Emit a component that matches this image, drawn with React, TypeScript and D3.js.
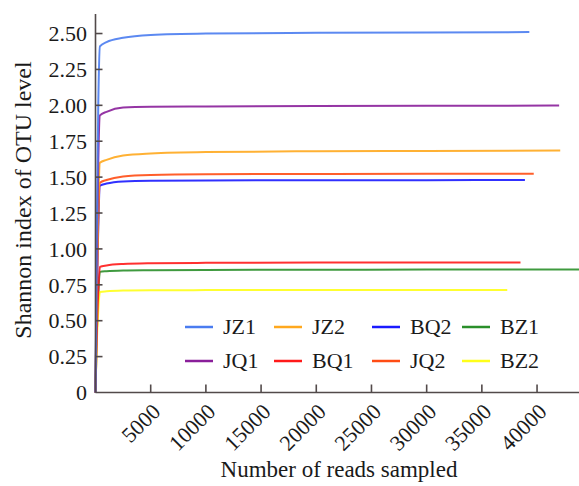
import * as d3 from "d3"

// sampling depths (reads) shared by all curves; last point of each curve is its own depth
const depths = [0, 100, 250, 400, 1000, 2500, 5000, 10000, 20000, 30000]

const seriesNames = ["JZ1", "JZ2", "BQ2", "BZ1", "JQ1", "BQ1", "JQ2", "BZ2"]
const seriesColors = ["#4a7cf0", "#ffa81e", "#1a1aff", "#2a8f2a", "#8a1f9a", "#ff1a1a", "#ff4c14", "#ffff1a"]
const maxDepths = [39300, 42100, 38900, 45000, 42000, 38500, 39700, 37300]

const jz1 = [0, 1.0, 2.0, 2.41, 2.44, 2.47, 2.49, 2.5, 2.505, 2.508, 2.51]
const jz2 = [0, 0.7, 1.3, 1.6, 1.62, 1.65, 1.665, 1.675, 1.68, 1.682, 1.685]
const bq2 = [0, 0.6, 1.15, 1.44, 1.455, 1.47, 1.475, 1.477, 1.478, 1.479, 1.48]
const bz1 = [0, 0.35, 0.68, 0.84, 0.845, 0.85, 0.852, 0.854, 0.855, 0.856, 0.857]
const jq1 = [0, 0.8, 1.6, 1.93, 1.955, 1.985, 1.99, 1.992, 1.995, 1.997, 1.998]
const bq1 = [0, 0.35, 0.7, 0.875, 0.885, 0.895, 0.9, 0.903, 0.905, 0.905, 0.905]
const jq2 = [0, 0.6, 1.2, 1.46, 1.48, 1.505, 1.515, 1.52, 1.522, 1.523, 1.523]
const bz2 = [0, 0.3, 0.57, 0.7, 0.705, 0.71, 0.712, 0.713, 0.714, 0.714, 0.714]
const seriesValues = [jz1, jz2, bq2, bz1, jq1, bq1, jq2, bz2]

const xTicks = [5000, 10000, 15000, 20000, 25000, 30000, 35000, 40000]
const yTicks = [0, 0.25, 0.5, 0.75, 1, 1.25, 1.5, 1.75, 2, 2.25, 2.5]

const width = 579
const height = 486
const font = '"Liberation Serif"'
const axisColor = "#524a4a"
const textColor = "#1a1a1a"

const x = d3.scaleLinear().domain([0, 43800]).range([95.5, 579])
const y = d3.scaleLinear().domain([0, 2.636]).range([392.5, 14])

const line = d3
  .line<[number, number]>()
  .x((d) => x(d[0]))
  .y((d) => y(d[1]))
  .curve(d3.curveMonotoneX)

// draw order (last on top)
const order = [3, 7, 5, 2, 6, 1, 4, 0]

// legend: 2 rows x 4 columns
const colX = [185, 274, 372, 462]
const rowY = [327, 361]

export default function App() {
  return (
    <svg
      width={width}
      height={height}
      style={{ position: "absolute", left: 0, top: 0, background: "#fff" }}
    >
      {order.map((i) => {
        const pts: [number, number][] = seriesValues[i].map((v, j) => [
          j < depths.length ? depths[j] : maxDepths[i],
          v,
        ])
        return (
          <path
            key={seriesNames[i]}
            d={line(pts) || ""}
            fill="none"
            stroke={seriesColors[i]}
            strokeWidth={2}
            strokeOpacity={0.9}
          />
        )
      })}

      <g stroke={axisColor} strokeWidth={1.6}>
        <line x1={x(0)} x2={x(0)} y1={14} y2={y(0)} />
        <line x1={x(0)} x2={width} y1={y(0)} y2={y(0)} />
        {yTicks.slice(1).map((t) => (
          <line key={t} x1={x(0)} x2={x(0) + 7} y1={y(t)} y2={y(t)} />
        ))}
        {xTicks.map((t) => (
          <line key={t} x1={x(t)} x2={x(t)} y1={y(0)} y2={y(0) - 8} />
        ))}
      </g>

      {yTicks.map((t) => (
        <text key={t} x={87} y={y(t)} dy="0.35em" textAnchor="end" fill={textColor} style={{ fontFamily: font, fontSize: 22 }}>
          {t === 0 ? "0" : d3.format(".2f")(t)}
        </text>
      ))}
      {xTicks.map((t) => (
        <text
          key={t}
          transform={`translate(${x(t) + 11},413)rotate(-45)`}
          textAnchor="end"
          fill={textColor}
          style={{ fontFamily: font, fontSize: 22 }}
        >
          {t}
        </text>
      ))}
      <text x={339} y={477} textAnchor="middle" fill={textColor} style={{ fontFamily: font, fontSize: 23 }}>
        Number of reads sampled
      </text>
      <text transform="translate(31,200)rotate(-90)" textAnchor="middle" fill={textColor} style={{ fontFamily: font, fontSize: 24 }}>
        Shannon index of OTU level
      </text>

      {seriesNames.map((name, i) => {
        const cx = colX[i % 4]
        const cy = rowY[Math.floor(i / 4)]
        return (
          <g key={name}>
            <line x1={cx} x2={cx + 28} y1={cy} y2={cy} stroke={seriesColors[i]} strokeWidth={2.5} />
            <text x={cx + 38} y={cy + 7} fill={textColor} style={{ fontFamily: font, fontSize: 22 }}>
              {name}
            </text>
          </g>
        )
      })}
    </svg>
  )
}
